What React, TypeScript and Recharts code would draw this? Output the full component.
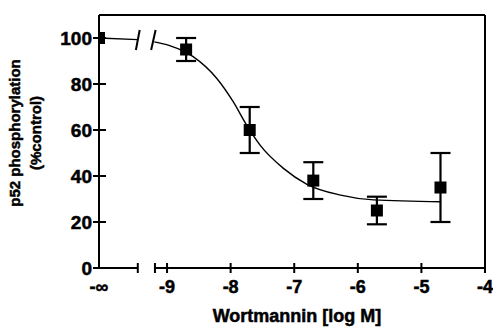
import React from 'react';
import {
  ComposedChart,
  XAxis,
  YAxis,
  Scatter,
  Line,
  ErrorBar,
  ReferenceLine,
  Label,
} from 'recharts';

// axis positions (log M); -∞ is drawn left of the break
const NEG_INF = -10.07;
const BREAK_LEFT = -9.46;
const BREAK_RIGHT = -9.19;

const xTicks = [NEG_INF, BREAK_LEFT, BREAK_RIGHT, -9, -8, -7, -6, -5, -4];
const xTickText = ['-∞', '', '', '-9', '-8', '-7', '-6', '-5', '-4'];
const yTicks = [0, 20, 40, 60, 80, 100];

// measured points (mean ± error)
const logDose = [-8.7, -7.7, -6.7, -5.7, -4.7];
const response = [95, 60, 38, 25, 35];
const errors = [5, 10, 8, 6, 15];
const controlValue = 100;

// fitted curve
const fitLeftX = [NEG_INF, BREAK_LEFT];
const fitLeftY = [100, 99.3];
const fitX = [-9.2, -8.96, -8.59, -8.22, -7.96, -7.75, -7.54, -7.17, -6.8, -6.27, -5.75, -4.69];
const fitY = [98.3, 96.7, 91.9, 82.5, 72.3, 62.2, 53.5, 43.3, 36.4, 31.7, 29.6, 28.8];

const points = logDose.map((x, i) => ({ x, y: response[i], err: errors[i] }));
const control = [{ x: NEG_INF, y: controlValue }];
const fitLeft = fitLeftX.map((x, i) => ({ x, y: fitLeftY[i] }));
const fitRight = fitX.map((x, i) => ({ x, y: fitY[i] }));

const FONT = '"Liberation Sans", Arial, Helvetica, sans-serif';
// the scanned lettering is heavier than a plain bold
const heavy = { stroke: '#000', strokeWidth: 0.5 };

const XTick = (props: any) => {
  const { x, y, payload } = props;
  const i = xTicks.indexOf(payload.value);
  const text = i >= 0 ? xTickText[i] : '';
  return (
    <g>
      {payload.value !== NEG_INF && (
        <line x1={x} x2={x} y1={y - 5} y2={y + 5} stroke="#000" strokeWidth={2} />
      )}
      {text && (
        <text x={x} y={y + 25} textAnchor="middle" fontSize={18} fontWeight="bold" fontFamily={FONT} fill="#000" {...heavy}>
          {text}
        </text>
      )}
    </g>
  );
};

const YTick = (props: any) => {
  const { x, y, payload } = props;
  return (
    <g>
      <line x1={x - 6} x2={x + 7} y1={y} y2={y} stroke="#000" strokeWidth={2} />
      <text x={x - 7} y={y + 7} textAnchor="end" fontSize={19} fontWeight="bold" fontFamily={FONT} fill="#000" {...heavy}>
        {payload.value}
      </text>
    </g>
  );
};

const YTitle = (props: any) => {
  const { viewBox } = props;
  const cx = viewBox.x + 20;
  const cy = viewBox.y + 118;
  return (
    <text
      transform={`rotate(-90 ${cx} ${cy})`}
      x={cx}
      y={cy}
      textAnchor="middle"
      fontSize={15}
      fontWeight="bold"
      fontFamily={FONT}
      fill="#000"
      {...heavy}
    >
      <tspan x={cx} dy={0}>p52 phosphorylation</tspan>
      <tspan x={cx} dy={21}>(%control)</tspan>
    </text>
  );
};

const Square = (props: any) => {
  const { cx, cy } = props;
  return <rect x={cx - 6} y={cy - 6} width={12} height={12} fill="#000" />;
};

export default function App() {
  return (
    <div style={{ position: 'absolute', left: 0, top: 0, background: '#fff' }}>
      <ComposedChart width={493} height={327} margin={{ top: 15, right: 8, left: 0, bottom: 0 }}>
        <XAxis
          type="number"
          dataKey="x"
          domain={[NEG_INF, -4]}
          ticks={xTicks}
          interval={0}
          axisLine={false}
          tickLine={false}
          tickSize={0}
          tickMargin={0}
          tick={<XTick />}
          height={59}
          allowDataOverflow
        >
          <Label
            value="Wortmannin [log M]"
            position="insideBottom"
            offset={5}
            dx={5}
            fontSize={18}
            fontWeight="bold"
            fontFamily={FONT}
            fill="#000"
            stroke="#000"
            strokeWidth={0.5}
          />
        </XAxis>
        <YAxis
          type="number"
          dataKey="y"
          domain={[0, 110]}
          ticks={yTicks}
          interval={0}
          axisLine={{ stroke: '#000', strokeWidth: 2 }}
          tickLine={false}
          tickSize={0}
          tickMargin={0}
          tick={<YTick />}
          width={99}
          allowDataOverflow
        >
          <Label content={<YTitle />} />
        </YAxis>

        {/* frame and broken x axis */}
        <ReferenceLine y={110} stroke="#000" strokeWidth={2} ifOverflow="visible" />
        <ReferenceLine x={-4} stroke="#000" strokeWidth={2} ifOverflow="visible" />
        <ReferenceLine
          segment={[{ x: NEG_INF, y: 0 }, { x: BREAK_LEFT, y: 0 }]}
          stroke="#000"
          strokeWidth={2}
          ifOverflow="visible"
        />
        <ReferenceLine
          segment={[{ x: BREAK_RIGHT, y: 0 }, { x: -4, y: 0 }]}
          stroke="#000"
          strokeWidth={2}
          ifOverflow="visible"
        />
        {/* break marks on the curve */}
        <ReferenceLine
          segment={[{ x: -9.43, y: 103.5 }, { x: -9.49, y: 94.8 }]}
          stroke="#000"
          strokeWidth={2}
          ifOverflow="visible"
        />
        <ReferenceLine
          segment={[{ x: -9.18, y: 103.5 }, { x: -9.25, y: 94.8 }]}
          stroke="#000"
          strokeWidth={2}
          ifOverflow="visible"
        />

        <Line
          data={fitLeft}
          dataKey="y"
          type="linear"
          stroke="#000"
          strokeWidth={1.4}
          dot={false}
          activeDot={false}
          isAnimationActive={false}
        />
        <Line
          data={fitRight}
          dataKey="y"
          type="monotone"
          stroke="#000"
          strokeWidth={1.4}
          dot={false}
          activeDot={false}
          isAnimationActive={false}
        />
        <Scatter data={control} dataKey="y" shape={<Square />} isAnimationActive={false} />
        <Scatter data={points} dataKey="y" shape={<Square />} isAnimationActive={false}>
          <ErrorBar dataKey="err" direction="y" width={10} strokeWidth={2.2} stroke="#000" />
        </Scatter>
      </ComposedChart>
    </div>
  );
}
